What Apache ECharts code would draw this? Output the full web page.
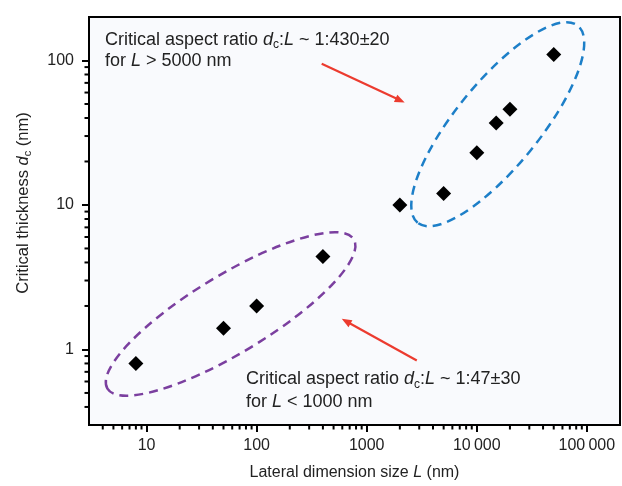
<!DOCTYPE html>
<html><head><meta charset="utf-8">
<script src="https://cdn.jsdelivr.net/npm/echarts@6/dist/echarts.min.js"></script>
<style>html,body{margin:0;padding:0;background:#fff}#c{width:622px;height:486px}</style>
</head><body><div id="c"></div>
<script>
// ---- data ----
const lateralSize = [8, 50, 100, 400, 2000, 5000, 10000, 15000, 20000, 50000];
const criticalThickness = [0.8, 1.4, 2.0, 4.4, 10, 12, 23, 37, 46, 110];
const xTickValues = [10, 100, 1000, 10000, 100000];
const xTickLabels = ['10', '100', '1000', '10\u2009000', '100\u2009000'];
const yTickValues = [1, 10, 100];
const yTickLabels = ['1', '10', '100'];
const xMinorTicks = [4, 5, 6, 7, 8, 9, 20, 30, 40, 50, 60, 70, 80, 90, 200, 300, 400, 500, 600, 700, 800, 900,
  2000, 3000, 4000, 5000, 6000, 7000, 8000, 9000, 20000, 30000, 40000, 50000, 60000, 70000, 80000, 90000];
const yMinorTicks = [0.4, 0.5, 0.6, 0.7, 0.8, 0.9, 2, 3, 4, 5, 6, 7, 8, 9, 20, 30, 40, 50, 60, 70, 80, 90];
const X_MIN = 3, X_MAX = 200000, Y_MIN = 0.3, Y_MAX = 200;

const FONT = '"Liberation Sans", Arial, Helvetica, sans-serif';
function makeRich(size, lh) {
  return {
    n: { fontFamily: FONT, fontSize: size, color: '#222', fill: '#222', lineHeight: lh },
    i: { fontFamily: FONT, fontSize: size, fontStyle: 'italic', color: '#222', fill: '#222', lineHeight: lh },
    s: { fontFamily: FONT, fontSize: Math.round(size * 0.68), color: '#222', fill: '#222', lineHeight: Math.round(size * 0.72), verticalAlign: 'bottom' }
  };
}

// annotation shapes (anchored in data coordinates)
const ellipses = [
  { center: [15500, 36.2], rx: 127, ry: 42, angle: 50.9, color: '#1d7fc8' },
  { center: [58, 1.76], rx: 144, ry: 39, angle: 31.2, color: '#7b3f9f' }
];
const arrows = [
  { from: [390, 94.9], to: [2213, 51.2] },
  { from: [2851, 0.838], to: [593, 1.63] }
];

const chart = echarts.init(document.getElementById('c'), null, { renderer: 'canvas' });

function tickLabel(values, labels) {
  return function (v) {
    for (let k = 0; k < values.length; k++) {
      if (Math.abs(Math.log10(v) - Math.log10(values[k])) < 1e-6) return labels[k];
    }
    return '';
  };
}

const option = {
  backgroundColor: '#fff',
  animation: false,
  grid: { left: 89, right: 2, top: 17, bottom: 57, show: true, backgroundColor: '#f9fafd', borderColor: '#000', borderWidth: 2 },
  xAxis: {
    type: 'log', logBase: 10, min: X_MIN, max: X_MAX,
    axisLine: { show: true, lineStyle: { color: '#000', width: 2 } },
    axisTick: { show: true, inside: false, length: 7, lineStyle: { color: '#000', width: 2 } },
    axisLabel: { show: true, margin: 13, fontFamily: FONT, fontSize: 16, color: '#222',
      showMinLabel: false, showMaxLabel: false, formatter: tickLabel(xTickValues, xTickLabels) },
    splitLine: { show: false },
    name: '{n|Lateral dimension size }{i|L}{n| (nm)}',
    nameLocation: 'middle', nameGap: 38,
    nameTextStyle: { rich: makeRich(16, 20) }
  },
  yAxis: {
    type: 'log', logBase: 10, min: Y_MIN, max: Y_MAX,
    axisLine: { show: true, lineStyle: { color: '#000', width: 2 } },
    axisTick: { show: true, inside: false, length: 7, lineStyle: { color: '#000', width: 2 } },
    axisLabel: { show: true, margin: 15, fontFamily: FONT, fontSize: 16, color: '#222',
      showMinLabel: false, showMaxLabel: false, formatter: tickLabel(yTickValues, yTickLabels) },
    splitLine: { show: false },
    name: '{n|Critical thickness }{i|d}{s|c}{n| (nm)}',
    nameLocation: 'middle', nameGap: 56,
    nameTextStyle: { rich: makeRich(16.5, 20), padding: [0, 0, 0, 36] }
  },
  series: [
    {
      type: 'scatter', name: 'data', symbol: 'diamond', symbolSize: 15,
      itemStyle: { color: '#000', opacity: 1 },
      data: lateralSize.map((x, k) => [x, criticalThickness[k]]),
      z: 10
    },
    {
      type: 'custom', coordinateSystem: 'cartesian2d', silent: true, clip: false, z: 6,
      data: xMinorTicks.map(v => [v, Y_MIN]),
      renderItem: function (params, api) {
        const p = api.coord([api.value(0), api.value(1)]);
        return { type: 'line', shape: { x1: p[0], y1: p[1], x2: p[0], y2: p[1] + 4.5 }, style: { stroke: '#000', lineWidth: 2 } };
      }
    },
    {
      type: 'custom', coordinateSystem: 'cartesian2d', silent: true, clip: false, z: 6,
      data: yMinorTicks.map(v => [X_MIN, v]),
      renderItem: function (params, api) {
        const p = api.coord([api.value(0), api.value(1)]);
        return { type: 'line', shape: { x1: p[0], y1: p[1], x2: p[0] - 4.5, y2: p[1] }, style: { stroke: '#000', lineWidth: 2 } };
      }
    },
    {
      type: 'custom', coordinateSystem: 'cartesian2d', silent: true, clip: false, z: 5,
      data: [[X_MIN, Y_MIN]],
      renderItem: function (params, api) {
        const children = [];
        ellipses.forEach(e => {
          const c = api.coord(e.center);
          children.push({
            type: 'ellipse', x: c[0], y: c[1], rotation: e.angle * Math.PI / 180,
            shape: { cx: 0, cy: 0, rx: e.rx, ry: e.ry },
            style: { fill: 'none', stroke: e.color, lineWidth: 2.5, lineDash: [9, 6] }
          });
        });
        arrows.forEach(a => {
          const p1 = api.coord(a.from), p2 = api.coord(a.to);
          const dx = p2[0] - p1[0], dy = p2[1] - p1[1], L = Math.hypot(dx, dy);
          const ux = dx / L, uy = dy / L, nx = -uy, ny = ux;
          const hl = 10, hw = 4;
          const bx = p2[0] - ux * hl, by = p2[1] - uy * hl;
          children.push({ type: 'line', shape: { x1: p1[0], y1: p1[1], x2: bx + ux * 2, y2: by + uy * 2 }, style: { stroke: '#ec3b2f', lineWidth: 2.2 } });
          children.push({ type: 'polygon', shape: { points: [[p2[0], p2[1]], [bx + nx * hw, by + ny * hw], [bx - nx * hw, by - ny * hw]] }, style: { fill: '#ec3b2f' } });
        });
        return { type: 'group', children: children };
      }
    }
  ],
  graphic: [
    { type: 'text', left: 105, top: 31, silent: true, z: 20,
      style: { text: '{n|Critical aspect ratio }{i|d}{s|c}{n|:}{i|L}{n| ~ 1:430\u00b120}\n{n|for }{i|L}{n| > 5000 nm}', rich: makeRich(18, 21), fill: '#222', fontFamily: FONT, fontSize: 18 } },
    { type: 'text', left: 246, top: 370, silent: true, z: 20,
      style: { text: '{n|Critical aspect ratio }{i|d}{s|c}{n|:}{i|L}{n| ~ 1:47\u00b130}\n{n|for }{i|L}{n| < 1000 nm}', rich: makeRich(18, 23), fill: '#222', fontFamily: FONT, fontSize: 18 } }
  ]
};
chart.setOption(option);
</script>
</body></html>
